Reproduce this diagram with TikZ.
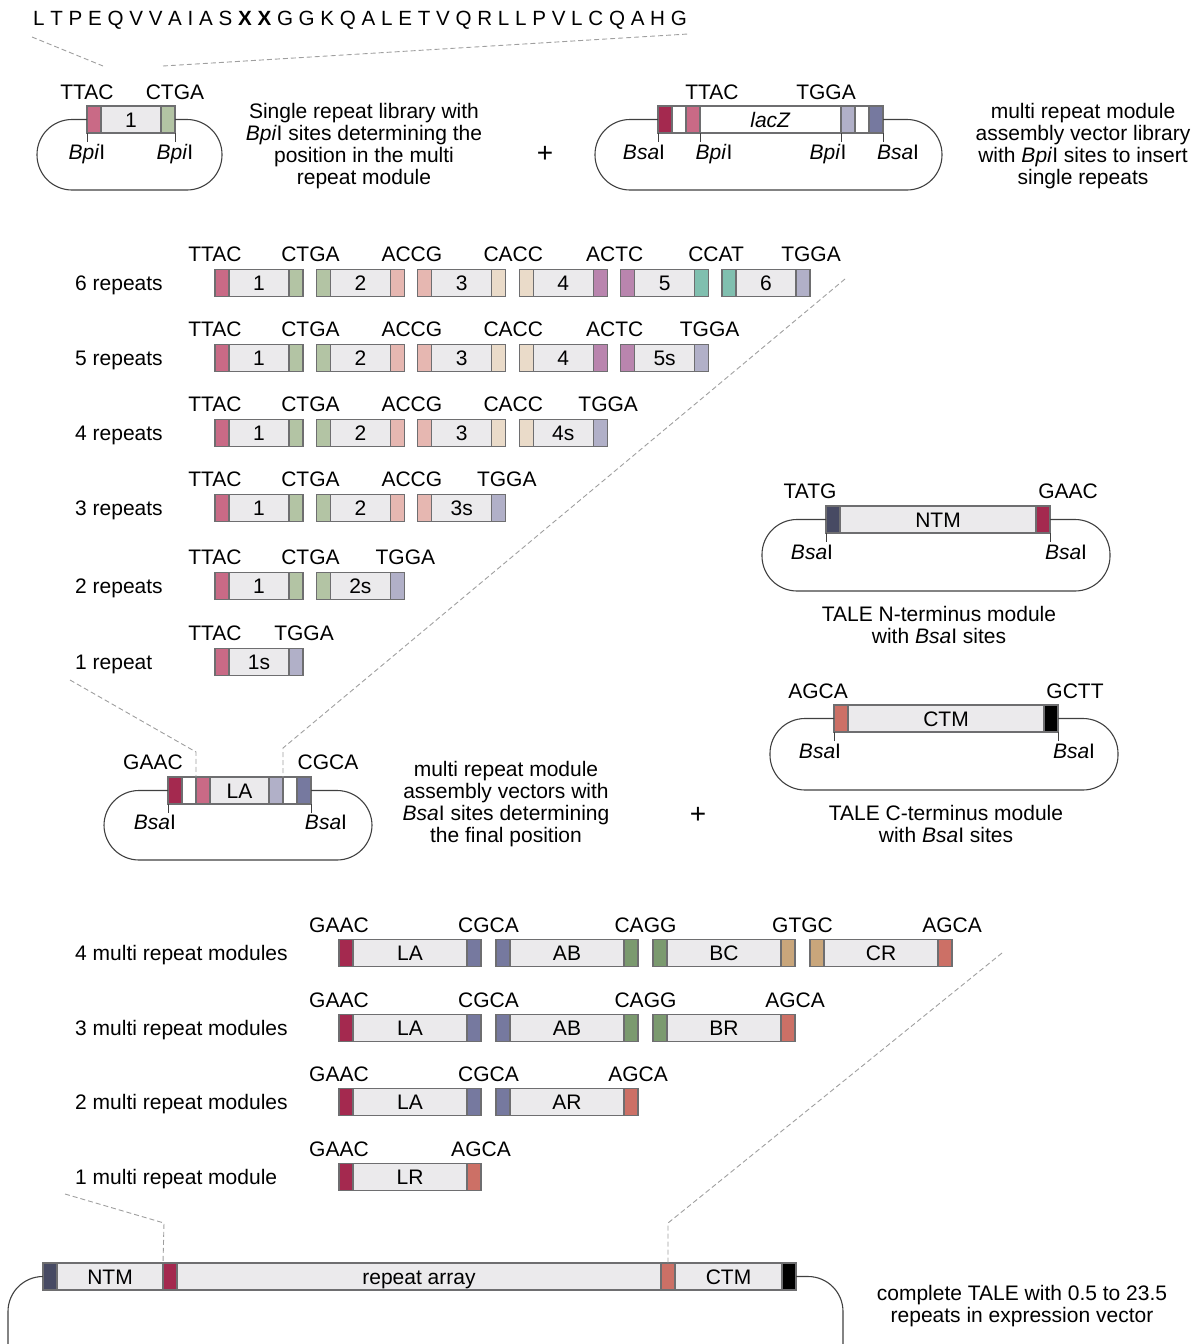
\documentclass[tikz,border=0pt]{standalone}
\usepackage{fontspec}
\setmainfont{Liberation Sans}
\usetikzlibrary{positioning}

\definecolor{bodygray}{HTML}{EBEAEC}
\definecolor{segline}{HTML}{6E6E70}
\definecolor{rp0}{HTML}{C96A86}
\definecolor{rp1}{HTML}{B3C4A4}
\definecolor{rp2}{HTML}{E6B7B1}
\definecolor{rp3}{HTML}{EADBC9}
\definecolor{rp4}{HTML}{B985AE}
\definecolor{rp5}{HTML}{80BFAF}
\definecolor{rpend}{HTML}{B1B0C8}
\definecolor{mm0}{HTML}{A4294F}
\definecolor{mm1}{HTML}{76799F}
\definecolor{mm2}{HTML}{7B9A6F}
\definecolor{mm3}{HTML}{C9A67B}
\definecolor{mmend}{HTML}{CC7066}
\definecolor{ntmcol}{HTML}{474A63}
\definecolor{ctmcol}{HTML}{000000}

% one coloured piece of a bar: name, left x, right x, y, fill, text
\newcommand{\seg}[6]{\node[segbox,fill=#5,minimum width={(#3)-(#2)}] (#1) at ({((#2)+(#3))/2},#4) {#6};}
\newcommand{\ohname}[1]{\ifcase#1\relax TTAC\or CTGA\or ACCG\or CACC\or ACTC\or CCAT\fi}
\newcommand{\mohname}[1]{\ifcase#1\relax GAAC\or CGCA\or CAGG\or GTGC\fi}
\newcommand{\mname}[1]{\ifcase#1\relax L\or A\or B\or C\fi}

\begin{document}
\begin{tikzpicture}[x=1pt,y=-1pt,
    every node/.style={font=\fontsize{21}{22}\selectfont},
    segbox/.style={draw=segline,line width=1.1pt,minimum height=27,inner sep=0pt,outer sep=0pt,text height=15pt,text depth=0pt},
    lab/.style={inner sep=0pt,text height=15pt,text depth=0pt},
    rowlab/.style={lab,anchor=west},
    caption/.style={inner sep=0pt,align=center,anchor=north},
    backbone/.style={draw=black!75,line width=1.1pt,rounded corners=35},
    tick/.style={draw=black!75,line width=1pt},
    guide/.style={draw=gray!75,line width=0.9pt,dash pattern=on 5pt off 3pt},
    plus/.style={lab,font=\fontsize{28}{28}\selectfont,text height=20pt},
  ]
  \useasboundingbox (0,0) rectangle (1200,1344);
  \clip (0,0) rectangle (1200,1344);

  % repeat sequence
  \node[lab,font=\fontsize{20.6}{22}\selectfont] (seq) at (360,18) {L T P E Q V V A I A S \textbf{X X} G G K Q A L E T V Q R L L P V L C Q A H G};
  \coordinate (g1a) at (32,37);
  \coordinate (g1b) at (103,66);
  \coordinate (g2a) at (163,66);
  \coordinate (g2b) at (688,34);
  \draw[guide] (g1a) -- (g1b);
  \draw[guide] (g2a) -- (g2b);

  % single repeat plasmid
  \seg{sa}{87}{101}{119.5}{rp0}{}
  \seg{sb}{101}{161}{119.5}{bodygray}{1}
  \seg{sc}{161}{175}{119.5}{rp1}{}
  \draw[backbone] (sa.west) -- (37,119.5) -- (37,190) -- (222,190) -- (222,119.5) -- (sc.east);
  \draw[tick] (sa.south west) -- ++(0,9);
  \draw[tick] (sc.south east) -- ++(0,9);
  \node[lab] (saoh) at (87,92) {TTAC};
  \node[lab] (scoh) at (175,92) {CTGA};
  \node[lab] (saenz) at (87,152) {\textit{Bpi}I};
  \node[lab] (scenz) at (175,152) {\textit{Bpi}I};
  \node[caption] (capS) at (364,103.5) {Single repeat library with\\\textit{Bpi}I sites determining the\\position in the multi\\repeat module};
  \node[plus] (plus1) at (545,152) {+};

  % assembly vector with lacZ
  \seg{va}{658}{672}{119.5}{mm0}{}
  \seg{vb}{672}{686}{119.5}{white}{}
  \seg{vc}{686}{700}{119.5}{rp0}{}
  \seg{vd}{700}{841}{119.5}{white}{\textit{lacZ}}
  \seg{ve}{841}{855}{119.5}{rpend}{}
  \seg{vf}{855}{869}{119.5}{white}{}
  \seg{vg}{869}{883}{119.5}{mm1}{}
  \draw[backbone] (va.west) -- (595,119.5) -- (595,190) -- (942,190) -- (942,119.5) -- (vg.east);
  \draw[tick] (va.south west) -- ++(0,9);
  \draw[tick] (vc.south east) -- ++(0,9);
  \draw[tick] (ve.south west) -- ++(0,9);
  \draw[tick] (vg.south east) -- ++(0,9);
  \node[lab] (vcoh) at (712,92) {TTAC};
  \node[lab] (veoh) at (826,92) {TGGA};
  \node[lab] (vaenz) at (644,152) {\textit{Bsa}I};
  \node[lab] (vcenz) at (714,152) {\textit{Bpi}I};
  \node[lab] (veenz) at (828,152) {\textit{Bpi}I};
  \node[lab] (vgenz) at (898,152) {\textit{Bsa}I};
  \node[caption] (capV) at (1083,103.5) {multi repeat module\\assembly vector library\\with \textit{Bpi}I sites to insert\\single repeats};

  % rows of single repeats
  \foreach \n/\yy in {6/283,5/358,4/433,3/508,2/586,1/662}{
    \node[rowlab] (rowR\n) at (75,\yy) {\n\ repeat\ifnum\n>1 s\fi};
    \node[lab] (ohR\n-0) at (215,\yy-29) {TTAC};
    \foreach \k in {1,...,\n}{
      \pgfmathsetmacro\xl{215+(\k-1)*101.4}
      \pgfmathtruncatemacro\km{\k-1}
      \ifnum\k<\n\relax \def\rc{rp\k}\def\bl{\k}\else\def\rc{rpend}\ifnum\n=6\relax \def\bl{\k}\else\def\bl{\k s}\fi\fi
      \seg{R\n-\k-a}{\xl}{\xl+14}{\yy}{rp\km}{}
      \seg{R\n-\k-b}{\xl+14}{\xl+74}{\yy}{bodygray}{\bl}
      \seg{R\n-\k-c}{\xl+74}{\xl+88}{\yy}{\rc}{}
      \ifnum\k<\n\relax
        \node[lab] (ohR\n-\k) at ({\xl+95.5},\yy-29) {\ohname{\k}};
      \else
        \node[lab] (ohR\n-end) at ({\xl+89},\yy-29) {TGGA};
      \fi
    }
  }

  % multi repeat module assembly vector
  \seg{La}{168}{182}{790.5}{mm0}{}
  \seg{Lb}{182}{196}{790.5}{white}{}
  \seg{Lc}{196}{210}{790.5}{rp0}{}
  \seg{Ld}{210}{269}{790.5}{bodygray}{LA}
  \seg{Le}{269}{283}{790.5}{rpend}{}
  \seg{Lf}{283}{297}{790.5}{white}{}
  \seg{Lg}{297}{311}{790.5}{mm1}{}
  \draw[backbone] (La.west) -- (104,790.5) -- (104,860) -- (372,860) -- (372,790.5) -- (Lg.east);
  \draw[tick] (La.south west) -- ++(0,9);
  \draw[tick] (Lg.south east) -- ++(0,9);
  \node[lab] (Laoh) at (153,762) {GAAC};
  \node[lab] (Lgoh) at (328,762) {CGCA};
  \node[lab] (Laenz) at (155,822) {\textit{Bsa}I};
  \node[lab] (Lgenz) at (326,822) {\textit{Bsa}I};
  \node[caption] (capL) at (506,761.5) {multi repeat module\\assembly vectors with\\\textit{Bsa}I sites determining\\the final position};
  \node[plus] (plus2) at (698,813) {+};
  \coordinate (g3a) at (70,680);
  \coordinate (g3b) at (196,752);
  \coordinate (g4a) at (845,279);
  \coordinate (g4b) at (283,748);
  \draw[guide] (g3a) -- (g3b) -- (Lc.north west);
  \draw[guide] (g4a) -- (g4b) -- (Le.north east);

  % N-terminus module
  \seg{Na}{826}{840}{519.5}{ntmcol}{}
  \seg{Nb}{840}{1036}{519.5}{bodygray}{NTM}
  \seg{Nc}{1036}{1050}{519.5}{mm0}{}
  \draw[backbone] (Na.west) -- (762,519.5) -- (762,591) -- (1110,591) -- (1110,519.5) -- (Nc.east);
  \draw[tick] (Na.south west) -- ++(0,9);
  \draw[tick] (Nc.south east) -- ++(0,9);
  \node[lab] (Naoh) at (810,491) {TATG};
  \node[lab] (Ncoh) at (1068,491) {GAAC};
  \node[lab] (Naenz) at (812,552) {\textit{Bsa}I};
  \node[lab] (Ncenz) at (1066,552) {\textit{Bsa}I};
  \node[caption] (capN) at (939,606.5) {TALE N-terminus module\\with \textit{Bsa}I sites};

  % C-terminus module
  \seg{Ca}{834}{848}{718.5}{mmend}{}
  \seg{Cb}{848}{1044}{718.5}{bodygray}{CTM}
  \seg{Cc}{1044}{1058}{718.5}{ctmcol}{}
  \draw[backbone] (Ca.west) -- (770,718.5) -- (770,790) -- (1118,790) -- (1118,718.5) -- (Cc.east);
  \draw[tick] (Ca.south west) -- ++(0,9);
  \draw[tick] (Cc.south east) -- ++(0,9);
  \node[lab] (Caoh) at (818,691) {AGCA};
  \node[lab] (Ccoh) at (1075,691) {GCTT};
  \node[lab] (Caenz) at (820,751) {\textit{Bsa}I};
  \node[lab] (Ccenz) at (1074,751) {\textit{Bsa}I};
  \node[caption] (capC) at (946,805.5) {TALE C-terminus module\\with \textit{Bsa}I sites};

  % rows of multi repeat modules
  \foreach \n/\yy in {4/953,3/1028,2/1102,1/1177}{
    \node[rowlab] (rowM\n) at (75,\yy) {\n\ multi repeat module\ifnum\n>1 s\fi};
    \node[lab] (ohM\n-0) at (339,\yy-28) {GAAC};
    \foreach \k in {1,...,\n}{
      \pgfmathsetmacro\xl{339+(\k-1)*157}
      \pgfmathtruncatemacro\km{\k-1}
      \ifnum\k<\n\relax \def\rc{mm\k}\else\def\rc{mmend}\fi
      \seg{M\n-\k-a}{\xl}{\xl+14}{\yy}{mm\km}{}
      \seg{M\n-\k-b}{\xl+14}{\xl+128}{\yy}{bodygray}{\mname{\km}\ifnum\k<\n\relax\mname{\k}\else R\fi}
      \seg{M\n-\k-c}{\xl+128}{\xl+142}{\yy}{\rc}{}
      \ifnum\k<\n\relax
        \node[lab] (ohM\n-\k) at ({\xl+149.5},\yy-28) {\mohname{\k}};
      \else
        \node[lab] (ohM\n-end) at ({\xl+142},\yy-28) {AGCA};
      \fi
    }
  }

  % complete TALE in expression vector
  \seg{F1}{43}{57}{1276.5}{ntmcol}{}
  \seg{F2}{57}{163}{1276.5}{bodygray}{NTM}
  \seg{F3}{163}{177}{1276.5}{mm0}{}
  \seg{F4}{177}{661}{1276.5}{bodygray}{repeat array}
  \seg{F5}{661}{675}{1276.5}{mmend}{}
  \seg{F6}{675}{782}{1276.5}{bodygray}{CTM}
  \seg{F7}{782}{796}{1276.5}{ctmcol}{}
  \draw[backbone] (F1.west) -- (8,1276.5) -- (8,1420) -- (843,1420) -- (843,1276.5) -- (F7.east);
  \coordinate (g5a) at (65,1194);
  \coordinate (g5b) at (164,1223);
  \coordinate (g6a) at (1002,953);
  \coordinate (g6b) at (668,1223);
  \draw[guide] (g5a) -- (g5b) -- (F3.north west);
  \draw[guide] (g6a) -- (g6b) -- (F5.north);
  \node[caption] (capF) at (1022,1285.5) {complete TALE with 0.5 to 23.5\\repeats in expression vector};
\end{tikzpicture}
\end{document}
